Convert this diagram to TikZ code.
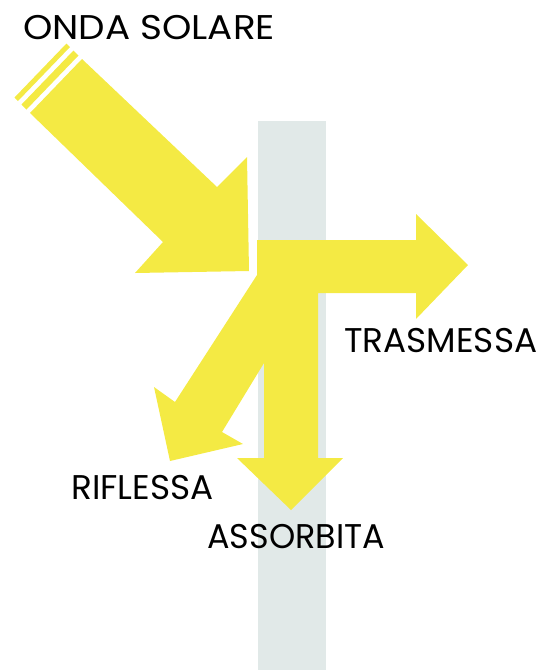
\documentclass[tikz,border=0pt]{standalone}
\usepackage{fontspec}
\setmainfont{Poppins}
\definecolor{solare}{RGB}{244,234,68}
\definecolor{vetro}{RGB}{225,233,232}
\begin{document}
\begin{tikzpicture}[x=0.02cm,y=-0.02cm,
		etichetta/.style={font=\fontsize{19.5}{20}\selectfont,anchor=base west,inner sep=0pt}]
	\useasboundingbox (0,0) rectangle (540,670);
	% lastra
	\fill[vetro] (258,121) rectangle (326,670);
	
	% onda incidente
	\fill[solare] (82,59) -- (217,187) -- (247,157) -- (249,271) -- (135,273) -- (163,242) -- (30,113) -- cycle;
	\fill[solare] (78.5,55.5) -- (73.5,50.5) -- (21.5,104.5) -- (26.5,109.5) -- cycle;
	\fill[solare] (70,47) -- (66.5,43.5) -- (14.5,97.5) -- (18,101) -- cycle;
	
	% trasmessa, assorbita, riflessa
	\fill[solare] (257,240) -- (416,240) -- (416,214) -- (468,265) -- (416,319) -- (416,293)
		-- (318,293) -- (318,458) -- (343,458) -- (291,510) -- (237,458) -- (264,458)
		-- (264,363) -- (222,432) -- (243,444) -- (170,461) -- (154,387) -- (175,402)
		-- (257,275) -- cycle;
	
	\node[etichetta] (onda) at (23,39) {\scalebox{1.09}[1]{ONDA SOLARE}};
	\node[etichetta] (trasmessa) at (344,352) {TRASMESSA};
	\node[etichetta] (riflessa) at (71,499) {RIFLESSA};
	\node[etichetta] (assorbita) at (207,548) {\scalebox{0.975}[1]{ASSORBITA}};
\end{tikzpicture}
\end{document}
